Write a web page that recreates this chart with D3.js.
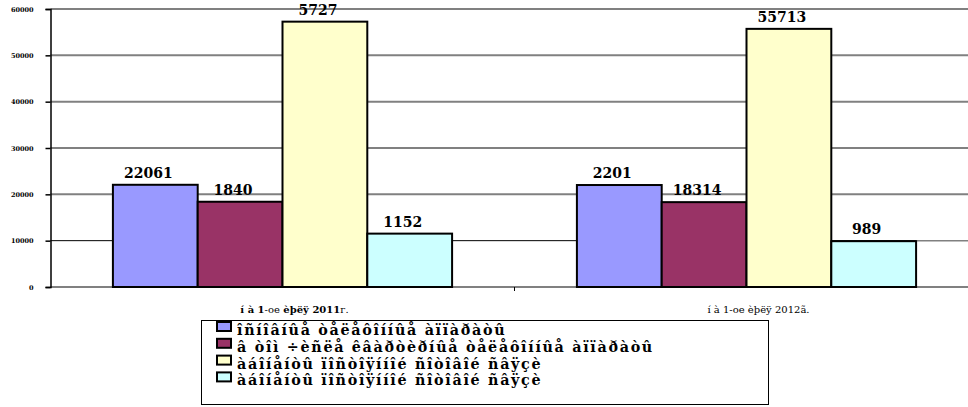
<!DOCTYPE html>
<html><head><meta charset="utf-8">
<script src="https://cdn.jsdelivr.net/npm/d3@7"></script>
<style>body{margin:0;background:#fff}svg{display:block}</style>
</head><body>
<script>
const categories = ["í à 1-oe èþëÿ 2011г.", "í à 1-oe èþëÿ 2012ã."];
const seriesNames = [
  "îñíîâíûå òåëåôîííûå àïïàðàòû",
  "â òîì ÷èñëå êâàðòèðíûå òåëåôîííûå àïïàðàòû",
  "àáîíåíòû ïîñòîÿííîé ñîòîâîé ñâÿçè",
  "àáîíåíòû ïîñòîÿííîé ñîòîâîé ñâÿçè"
];
const colors = ["#9999FF", "#993366", "#FFFFCC", "#CCFFFF"];
// bar heights as drawn
const values2011 = [22061, 18400, 57270, 11520];
const values2012 = [22010, 18314, 55713, 9890];
// data labels as printed
const labels2011 = ["22061", "1840", "5727", "1152"];
const labels2012 = ["2201", "18314", "55713", "989"];
const yTicks = [0, 10000, 20000, 30000, 40000, 50000, 60000];

const W = 968, H = 407;
const FONT = "DejaVu Serif";
const svg = d3.select("body").append("svg").attr("width", W).attr("height", H);
const plotL = 50.5, plotW = 928, plotT = 9, plotB = 287;

const y = d3.scaleLinear().domain([0, 60000]).range([plotB, plotT]);
const x0 = d3.scaleBand().domain(categories).range([plotL, plotL + plotW]);
const groupW = x0.bandwidth() * 0.731;
const x1 = d3.scaleBand().domain(d3.range(seriesNames.length))
  .range([(x0.bandwidth() - groupW) / 2, (x0.bandwidth() + groupW) / 2]);

// gridlines
svg.append("g").selectAll("line").data(yTicks.filter(d => d !== 10000)).join("line")
  .attr("x1", plotL).attr("x2", W).attr("y1", d => y(d)).attr("y2", d => y(d))
  .attr("stroke", "#808080").attr("stroke-width", 2);
const lastRight = x0(categories[1]) + x1(3) + x1.bandwidth();
svg.append("line").attr("x1", plotL).attr("x2", lastRight)
  .attr("y1", y(10000)).attr("y2", y(10000)).attr("stroke", "#000").attr("stroke-width", 1);
svg.append("line").attr("x1", lastRight).attr("x2", W)
  .attr("y1", y(10000)).attr("y2", y(10000)).attr("stroke", "#808080").attr("stroke-width", 1.5);

// y axis
const yAxis = d3.axisLeft(y).tickValues(yTicks).tickSize(5).tickPadding(12).tickFormat(d3.format("d"));
const gy = svg.append("g").attr("transform", `translate(${plotL},0)`).call(yAxis);
gy.select(".domain").attr("stroke", "#000").attr("stroke-width", 1.5);
gy.selectAll(".tick line").attr("stroke", "#000").attr("stroke-width", 1.5);
gy.selectAll(".tick text").attr("font-family", FONT).attr("font-weight", "bold")
  .attr("font-size", 6.5).attr("fill", "#000");

// x axis tick between categories
svg.append("line").attr("x1", x0(categories[1])).attr("x2", x0(categories[1]))
  .attr("y1", plotB).attr("y2", plotB + 4).attr("stroke", "#000");

const data = categories.map((c, i) => ({
  cat: c,
  vals: (i === 0 ? values2011 : values2012),
  labs: (i === 0 ? labels2011 : labels2012)
}));

const groups = svg.append("g").selectAll("g").data(data).join("g")
  .attr("transform", d => `translate(${x0(d.cat)},0)`);
groups.selectAll("rect").data(d => d.vals.map((v, k) => ({v, k}))).join("rect")
  .attr("x", d => x1(d.k)).attr("width", x1.bandwidth())
  .attr("y", d => y(d.v)).attr("height", d => y(0) - y(d.v))
  .attr("fill", d => colors[d.k]).attr("stroke", "#000").attr("stroke-width", 2);
groups.selectAll("text.lab").data(d => d.labs.map((l, k) => ({l, k, v: d.vals[k]}))).join("text")
  .attr("class", "lab")
  .attr("x", d => x1(d.k) + x1.bandwidth() / 2 - 7)
  .attr("y", d => y(d.v) - 7)
  .attr("text-anchor", "middle")
  .attr("font-family", FONT).attr("font-weight", "bold").attr("font-size", 14)
  .text(d => d.l);

// category labels (first one mixes bold and regular runs)
const cl = svg.append("g").selectAll("text").data(categories).join("text")
  .attr("x", d => x0(d) + x0.bandwidth() / 2 + 12)
  .attr("y", 313)
  .attr("text-anchor", "middle")
  .attr("font-family", FONT).attr("font-size", 10);
cl.each(function(d, i) {
  const t = d3.select(this);
  if (i === 0) {
    const parts = d.match(/^(.*?\d)(-oe)(.*?\d+)(.*)$/);
    [[parts[1], "bold"], [parts[2], "normal"], [parts[3], "bold"], [parts[4], "normal"]]
      .forEach(([s, w]) => t.append("tspan").attr("font-weight", w).text(s));
  } else {
    t.text(d);
  }
});

// legend
const leg = svg.append("g");
leg.append("rect").attr("x", 201.5).attr("y", 320.5).attr("width", 567).attr("height", 84)
  .attr("fill", "#fff").attr("stroke", "#000").attr("stroke-width", 1);
const items = leg.selectAll("g").data(seriesNames).join("g")
  .attr("transform", (d, i) => `translate(0,${i * 16.8})`);
items.append("rect").attr("x", 217).attr("y", 322).attr("width", 14).attr("height", 9)
  .attr("fill", (d, i) => colors[i]).attr("stroke", "#000").attr("stroke-width", 2);
items.append("text").attr("x", 237).attr("y", 335)
  .attr("font-family", FONT).attr("font-weight", "bold").attr("font-size", 14.3)
  .attr("letter-spacing", 1.7)
  .text(d => d);
</script>
</body></html>
